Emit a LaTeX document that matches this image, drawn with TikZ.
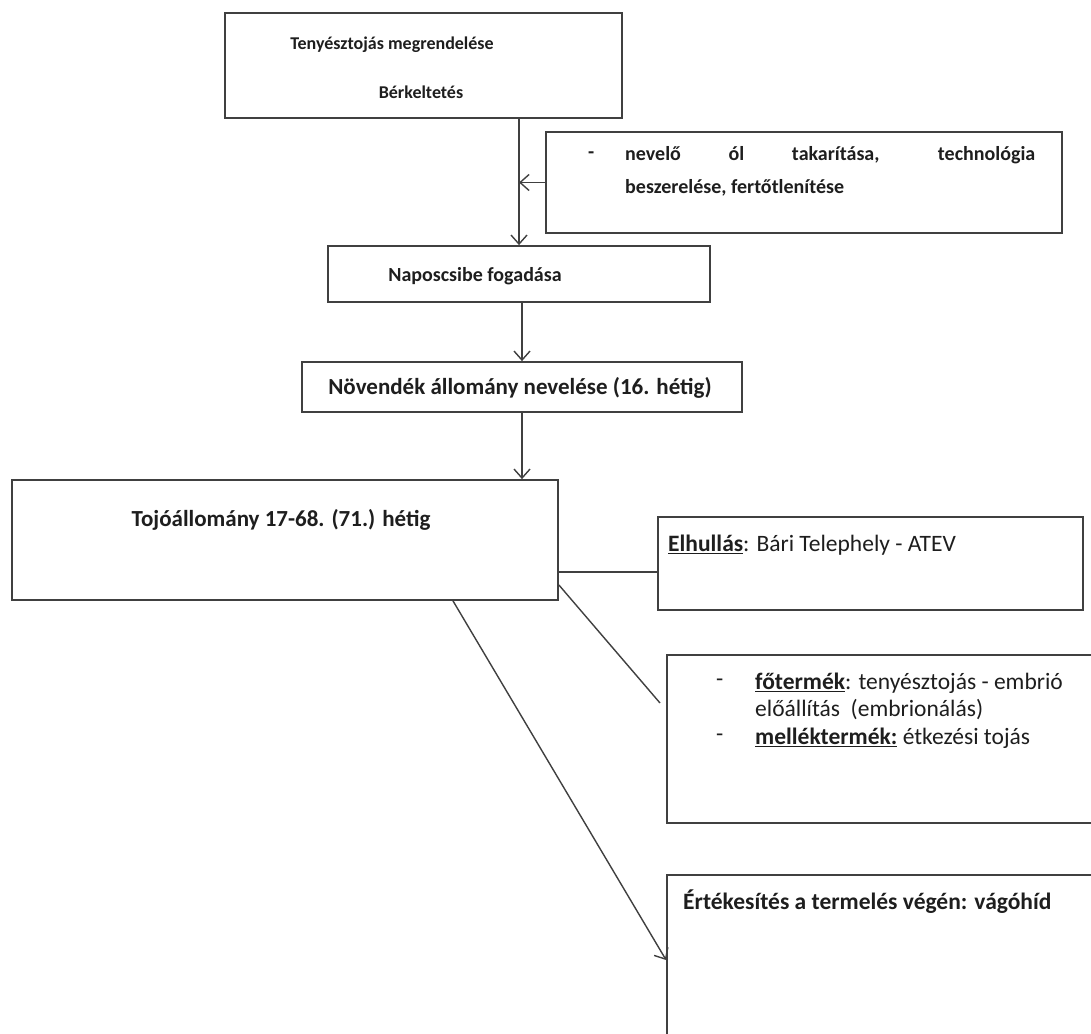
\documentclass[tikz,border=0pt]{standalone}
\usepackage{fontspec}
\setmainfont{Carlito}
\usetikzlibrary{arrows.meta,calc}
\definecolor{ln}{HTML}{404040}
\definecolor{tx}{HTML}{1e1e1e}
\begin{document}
\begin{tikzpicture}[x=1pt,y=-1pt,
  boxshape/.style={draw=ln,line width=1.8pt,inner sep=0pt,fill=white},
  conn/.style={draw=ln,line width=1.4pt},
  arr/.style={conn,-{Straight Barb[length=9pt,width=16pt,line width=1.4pt]}},
  ttl/.style={text=tx,font=\fontsize{23}{26}\selectfont\bfseries,inner sep=0pt},
  plain/.style={text=tx,font=\fontsize{23.5}{26}\selectfont,inner sep=0pt,anchor=west},
  small/.style={text=tx,font=\fontsize{20}{23}\selectfont\bfseries,inner sep=0pt,anchor=west}]
\useasboundingbox (0,0) rectangle (1091,1033);
\clip (0,0) rectangle (1091,1033);
\fill[white] (0,0) rectangle (1091,1033);
% boxes
\node[boxshape,minimum width=397pt,minimum height=105pt] (b1) at (423.5,65.5) {};
\node[boxshape,minimum width=516pt,minimum height=101pt] (side) at (804,182.5) {};
\node[boxshape,minimum width=382pt,minimum height=56pt] (b2) at (519,274) {};
\node[boxshape,minimum width=440pt,minimum height=50pt] (b3) at (522,387) {};
\node[boxshape,minimum width=546pt,minimum height=120pt] (b4) at (285,540) {};
\node[boxshape,minimum width=425pt,minimum height=93pt] (elh) at (870.5,563.5) {};
\node[boxshape,minimum width=440pt,minimum height=168pt] (ft) at (887,739) {};
\node[boxshape,minimum width=440pt,minimum height=170pt] (ert) at (887,960) {};
% texts
\node[ttl,font=\fontsize{18}{22}\selectfont\bfseries] (t1a) at (392,45) {Tenyésztojás megrendelése};
\node[ttl,font=\fontsize{18}{22}\selectfont\bfseries] (t1b) at (421,92) {Bérkeltetés};
\node[small] (sdash) at (588,155) {-};
\node[small] (s1) at (625,155) {\makebox[410pt][s]{nevelő ól takarítása, technológia}};
\node[small] (s2) at (625,188) {beszerelése, fertőtlenítése};
\node[ttl,font=\fontsize{20}{24}\selectfont\bfseries] (t2) at (475,276) {Naposcsibe fogadása};
\node[ttl] (t3) at (520,388) {Növendék állomány nevelése (16. hétig)};
\node[ttl] (t4) at (281,520) {Tojóállomány 17-68. (71.) hétig};
\node[plain] (te) at (668,545) {\underline{\textbf{Elhullás}}: Bári Telephely - ATEV};
\node[plain] (fd1) at (716,683) {-};
\node[plain] (f1) at (755,683) {\underline{\textbf{főtermék}}: tenyésztojás - embrió};
\node[plain] (f2) at (755,710) {előállítás\ \ (embrionálás)};
\node[plain] (fd2) at (716,738) {-};
\node[plain] (f3) at (755,738) {\underline{\textbf{melléktermék:}} étkezési tojás};
\node[plain,font=\fontsize{23.5}{26}\selectfont\bfseries] (tv) at (683,902) {Értékesítés a termelés végén: vágóhíd};
% connectors
\draw[arr] (b1.south -| b2.north) -- (b2.north);
\draw[arr] (side.west) -- (side.west -| b2.north);
\draw[arr] (b2.south -| b3.north) -- (b3.north);
\draw[arr] (b3.south) -- (b3.south |- b4.north);
\draw[conn] ([yshift=-32pt]b4.east) -- ([yshift=-32pt]b4.east -| elh.west);
\coordinate (fe) at (660,703);
\draw[conn] ([yshift=-45pt]b4.east) -- (fe);
\draw[arr] ([xshift=168pt]b4.south) -- (ert.west);
\end{tikzpicture}
\end{document}
